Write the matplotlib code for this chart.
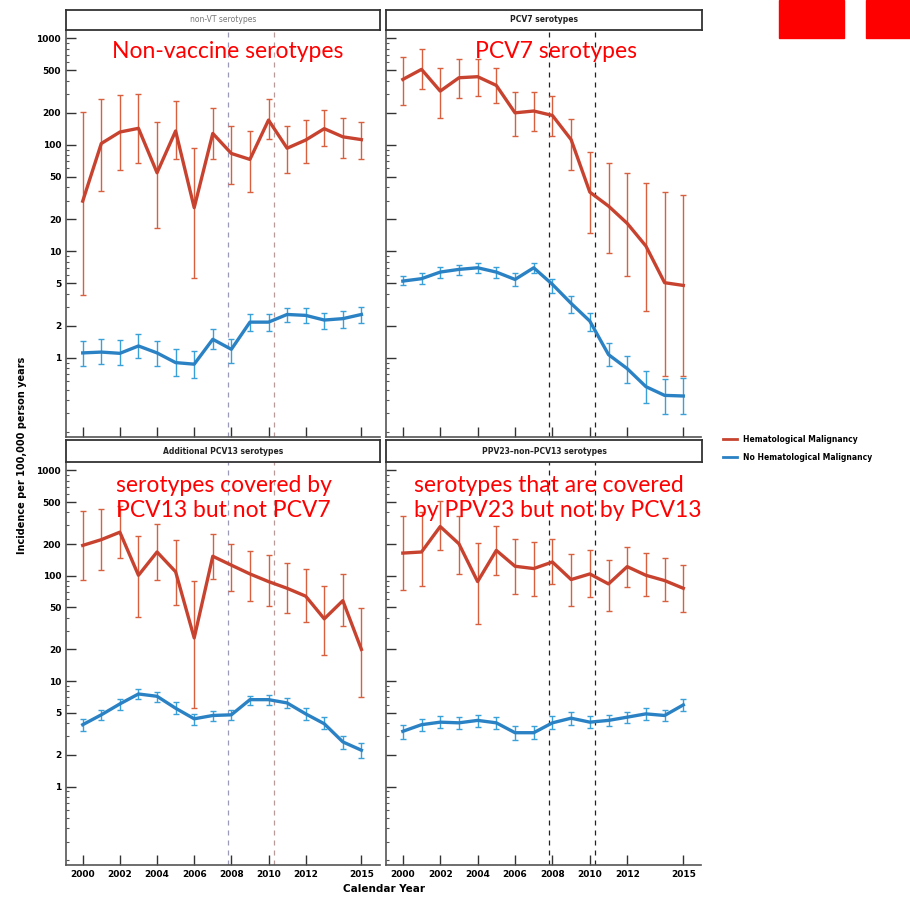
import matplotlib
matplotlib.use("Agg")
import matplotlib.pyplot as plt
import numpy as np
from matplotlib.patches import Rectangle
from matplotlib.lines import Line2D
from matplotlib.ticker import FixedLocator, NullFormatter

years = np.arange(2000, 2016)
xtick_years = [2000, 2002, 2004, 2006, 2008, 2010, 2012, 2015]
ytick_vals = [1, 2, 5, 10, 20, 50, 100, 200, 500, 1000]
vaccine_lines = [2007.8, 2010.3]

# non-VT serotypes
nvt_hm = [29.6, 103, 132, 143, 54.7, 135, 25.7, 128, 83, 73, 171, 93, 111, 142, 119, 112]
nvt_hm_lo = [3.9, 36.8, 58, 68, 16.6, 73, 5.6, 74, 42.5, 36, 114, 54, 68, 97, 76, 73]
nvt_hm_hi = [203, 271, 291, 302, 164, 258, 94, 223, 152, 135, 267, 152, 171, 211, 180, 164]
nvt_no = [1.11, 1.13, 1.10, 1.29, 1.11, 0.90, 0.87, 1.49, 1.20, 2.16, 2.16, 2.55, 2.50, 2.26, 2.33, 2.55]
nvt_no_lo = [0.835, 0.866, 0.847, 1.0, 0.835, 0.67, 0.649, 1.2, 0.90, 1.78, 1.78, 2.16, 2.1, 1.85, 1.91, 2.13]
nvt_no_hi = [1.43, 1.49, 1.47, 1.66, 1.43, 1.21, 1.155, 1.85, 1.49, 2.55, 2.55, 2.95, 2.95, 2.65, 2.74, 3.0]

# PCV7 serotypes
pcv7_hm = [412, 512, 320, 427, 437, 362, 200, 208, 189, 112, 36, 26.6, 18.3, 11.2, 5.07, 4.78]
pcv7_hm_lo = [235, 337, 180, 277, 288, 245, 121, 135, 121, 58, 15, 9.7, 5.8, 2.74, 0.67, 0.67]
pcv7_hm_hi = [673, 800, 531, 645, 635, 531, 313, 313, 288, 176, 86, 68, 54.7, 44, 36, 34]
pcv7_no = [5.25, 5.53, 6.38, 6.76, 7.0, 6.38, 5.44, 7.0, 4.89, 3.24, 2.21, 1.07, 0.79, 0.535, 0.443, 0.437]
pcv7_no_lo = [4.78, 4.88, 5.65, 5.95, 6.2, 5.65, 4.7, 6.3, 4.08, 2.65, 1.78, 0.835, 0.58, 0.372, 0.293, 0.293]
pcv7_no_hi = [5.85, 6.3, 7.1, 7.5, 7.7, 7.15, 6.2, 7.8, 5.53, 3.8, 2.65, 1.38, 1.04, 0.75, 0.635, 0.648]

# additional PCV13 serotypes
pcv13_hm = [194, 220, 259, 101, 168, 109, 25.7, 153, 126, 104, 88, 76, 64, 39, 58, 20]
pcv13_hm_lo = [91, 113, 146, 41, 91, 53, 5.53, 94, 71, 57, 52, 44, 36, 17.6, 33.6, 7.0]
pcv13_hm_hi = [408, 430, 462, 236, 311, 220, 90, 250, 201, 172, 156, 132, 115, 80, 105, 49]
pcv13_no = [3.86, 4.79, 6.08, 7.55, 7.18, 5.53, 4.39, 4.72, 4.79, 6.67, 6.67, 6.21, 4.89, 3.94, 2.65, 2.21]
pcv13_no_lo = [3.33, 4.24, 5.37, 6.78, 6.4, 4.89, 3.8, 4.14, 4.24, 5.95, 5.95, 5.53, 4.32, 3.49, 2.26, 1.85]
pcv13_no_hi = [4.4, 5.37, 6.78, 8.4, 7.9, 6.3, 4.89, 5.25, 5.37, 7.3, 7.4, 6.86, 5.53, 4.55, 3.02, 2.61]

# PPV23-non-PCV13 serotypes
ppv23_hm = [164, 168, 293, 201, 88, 174, 123, 117, 135, 92, 104, 83.6, 122, 101, 90, 76]
ppv23_hm_lo = [73, 80, 177, 104, 35, 101, 67, 64, 83.6, 52, 62.5, 45.8, 79, 64, 57, 45]
ppv23_hm_hi = [372, 400, 507, 372, 204, 299, 224, 209, 224, 162, 174, 142, 187, 164, 146, 126]
ppv23_no = [3.34, 3.86, 4.08, 4.02, 4.24, 4.02, 3.24, 3.24, 4.02, 4.45, 4.08, 4.24, 4.55, 4.89, 4.72, 5.95]
ppv23_no_lo = [2.81, 3.34, 3.59, 3.53, 3.66, 3.53, 2.74, 2.81, 3.49, 3.86, 3.59, 3.74, 4.02, 4.32, 4.14, 5.25]
ppv23_no_hi = [3.8, 4.4, 4.65, 4.55, 4.79, 4.55, 3.74, 3.74, 4.65, 5.08, 4.65, 4.79, 5.14, 5.53, 5.37, 6.78]

RED = "#c8432f"
RED_ERR = "#d9603e"
BLUE = "#2a82c4"
BLUE_ERR = "#3aa0d8"

fig = plt.figure(figsize=(9.1, 8.97), dpi=100)
W, H = 910.0, 897.0


def px(x0, y0, x1, y1):
    return [x0 / W, 1 - y1 / H, (x1 - x0) / W, (y1 - y0) / H]


def panel(box, strip, title, bold, hm, hm_lo, hm_hi, no, no_lo, no_hi,
          left_labels, bottom_labels, dash_col):
    ax = fig.add_axes(px(*box))
    for v, c in zip(vaccine_lines, dash_col):
        ax.axvline(v, color=c, ls=(0, (4, 4)), lw=0.9, zorder=1)
    for val, lo, hi, col, ecol in [(hm, hm_lo, hm_hi, RED, RED_ERR),
                                   (no, no_lo, no_hi, BLUE, BLUE_ERR)]:
        val = np.array(val)
        err = [val - np.array(lo), np.array(hi) - val]
        ax.errorbar(years, val, yerr=err, fmt="none", ecolor=ecol,
                    elinewidth=1.0, capsize=2.2, capthick=1.0, zorder=2)
        ax.plot(years, val, color=col, lw=2.4, zorder=3)
    ax.set_yscale("log")
    ax.set_ylim(0.18, 1200)
    ax.set_xlim(1999.1, 2016)
    ax.yaxis.set_major_locator(FixedLocator(ytick_vals))
    minor = [m * 10.0 ** e for e in range(-1, 3) for m in range(2, 10)]
    minor = [m for m in minor if m not in ytick_vals]
    ax.yaxis.set_minor_locator(FixedLocator(minor))
    ax.yaxis.set_minor_formatter(NullFormatter())
    ax.set_yticklabels([str(v) for v in ytick_vals])
    ax.set_xticks(xtick_years)
    ax.set_xticklabels([str(v) for v in xtick_years])
    ax.tick_params(axis="both", which="major", direction="in", length=7,
                   width=1.0, labelsize=6.5, color="#333333")
    ax.tick_params(axis="y", which="minor", direction="in", length=2.5,
                   width=0.8, color="#555555")
    ax.tick_params(labelleft=left_labels, labelbottom=bottom_labels)
    for lab in ax.get_xticklabels() + ax.get_yticklabels():
        lab.set_fontweight("bold")
    for s in ["top", "right"]:
        ax.spines[s].set_visible(False)
    for s in ["left", "bottom"]:
        ax.spines[s].set_color("#555555")
        ax.spines[s].set_linestyle((0, (1, 1)))
        ax.spines[s].set_linewidth(1.2)

    sax = fig.add_axes(px(*strip))
    sax.set_xticks([])
    sax.set_yticks([])
    for s in sax.spines.values():
        s.set_linewidth(1.3)
        s.set_color("#333333")
    sax.text(0.5, 0.5, title, ha="center", va="center", fontsize=5.5,
             fontweight="bold" if bold else "normal",
             color="#222222" if bold else "#777777", transform=sax.transAxes)
    return ax


light = ["#9a9ab8", "#b89a9a"]
dark = ["#222222", "#222222"]

panel((66, 30, 380, 437), (66, 10, 380, 30), "non-VT serotypes", False,
      nvt_hm, nvt_hm_lo, nvt_hm_hi, nvt_no, nvt_no_lo, nvt_no_hi,
      True, False, light)
panel((386, 30, 702, 437), (386, 10, 702, 30), "PCV7 serotypes", True,
      pcv7_hm, pcv7_hm_lo, pcv7_hm_hi, pcv7_no, pcv7_no_lo, pcv7_no_hi,
      False, False, dark)
panel((66, 462, 380, 865), (66, 440, 380, 462), "Additional PCV13 serotypes", True,
      pcv13_hm, pcv13_hm_lo, pcv13_hm_hi, pcv13_no, pcv13_no_lo, pcv13_no_hi,
      True, True, light)
panel((386, 462, 702, 865), (386, 440, 702, 462), "PPV23\u2013non\u2013PCV13 serotypes", True,
      ppv23_hm, ppv23_hm_lo, ppv23_hm_hi, ppv23_no, ppv23_no_lo, ppv23_no_hi,
      False, True, dark)

fig.text(22 / W, 1 - 455 / H, "Incidence per 100,000 person years", rotation=90,
         ha="center", va="center", fontsize=7, fontweight="bold")
fig.text(384 / W, 1 - 889 / H, "Calendar Year", ha="center", va="center",
         fontsize=7.5, fontweight="bold")

handles = [Line2D([], [], color=RED, lw=2), Line2D([], [], color=BLUE, lw=2)]
fig.legend(handles, ["Hematological Malignancy", "No Hematological Malignancy"],
           loc="upper left", bbox_to_anchor=(716 / W, 1 - 428 / H), frameon=False,
           handlelength=1.8, labelspacing=1.2,
           prop={"weight": "bold", "size": 5.5})

ann = dict(color="#ff0000", fontsize=16.5, family="Lato")
fig.text(228 / W, 1 - 52 / H, "Non-vaccine serotypes", ha="center", va="center", **ann)
fig.text(556 / W, 1 - 52 / H, "PCV7 serotypes", ha="center", va="center", **ann)
fig.text(116 / W, 1 - 498 / H, "serotypes covered by\nPCV13 but not PCV7", ha="left",
         va="center", linespacing=1.2, **ann)
fig.text(414 / W, 1 - 498 / H, "serotypes that are covered\nby PPV23 but not by PCV13",
         ha="left", va="center", linespacing=1.2, **ann)

fig.patches.append(Rectangle((779 / W, 1 - 38 / H), 65 / W, 38 / H,
                             transform=fig.transFigure, color="#ff0000"))
fig.patches.append(Rectangle((866 / W, 1 - 38 / H), 44 / W, 38 / H,
                             transform=fig.transFigure, color="#ff0000"))

fig.savefig("out.png", dpi=100)
